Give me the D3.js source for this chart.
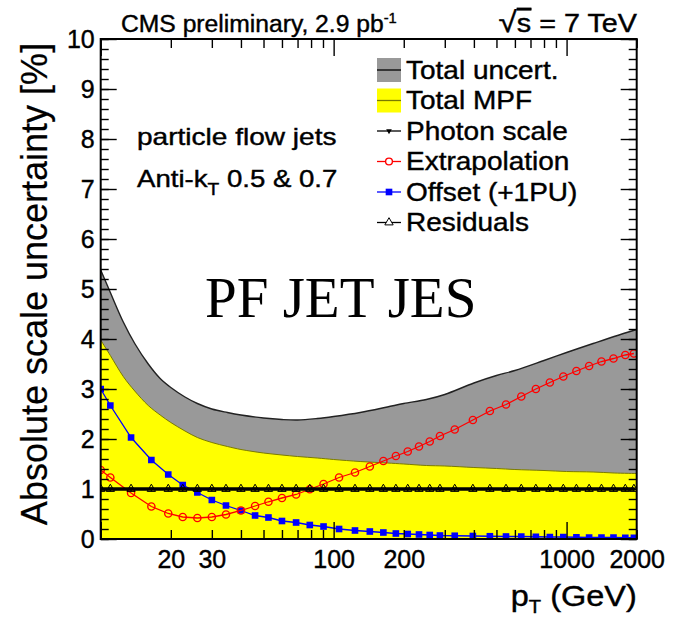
<!DOCTYPE html>
<html>
<head>
<meta charset="utf-8">
<script src="https://cdn.jsdelivr.net/npm/d3@7"></script>
<style>
	body { margin: 0; background: #fff; }
	#chart { width: 673px; height: 617px; }
	text { font-family: "Liberation Sans", Arial, Helvetica, sans-serif; fill: #000; stroke: #000; stroke-width: 0.4px; }
	text.serif { stroke: none; }
</style>
</head>
<body>
<div id="chart"></div>
<script>
//pT bin centres (GeV), shared by the marker series
var ptBins = [10, 11, 13.5, 16.5, 19.5, 22.5, 26, 30, 34.5, 40, 46, 52.5, 60, 69, 79, 90.5, 105.5, 123.5, 143, 163.5,
	185, 208, 232.5, 258.5, 286, 331, 396, 468.5, 549.5, 639, 738, 847.5, 968.5, 1102, 1249.5, 1412, 1590, 1787, 1945];

//uncertainty components [%]
var offsetPU = [3.0, 2.67, 2.03, 1.58, 1.29, 1.08, 0.93, 0.78, 0.67, 0.57, 0.47, 0.43, 0.36, 0.33, 0.28, 0.25, 0.20, 0.17, 0.15, 0.13,
	0.11, 0.10, 0.09, 0.08, 0.07, 0.065, 0.06, 0.055, 0.05, 0.05, 0.045, 0.04, 0.04, 0.035, 0.03, 0.03, 0.03, 0.025, 0.025];
var extrapolation = [1.38, 1.23, 0.92, 0.65, 0.51, 0.44, 0.42, 0.44, 0.49, 0.57, 0.66, 0.745, 0.82, 0.89, 0.995, 1.1, 1.23, 1.33, 1.45, 1.56,
	1.66, 1.75, 1.85, 1.95, 2.06, 2.19, 2.38, 2.56, 2.69, 2.85, 3.0, 3.13, 3.25, 3.36, 3.46, 3.55, 3.61, 3.68, 3.71];
var photonScale = [1, 1, 1, 1, 1, 1, 1, 1, 1, 1, 1, 1, 1, 1, 1, 1, 1, 1, 1, 1,
	1, 1, 1, 1, 1, 1, 1, 1, 1, 1, 1, 1, 1, 1, 1, 1, 1, 1, 1];
var residuals = [1, 1, 1, 1, 1, 1, 1, 1, 1, 1, 1, 1, 1, 1, 1, 1, 1, 1, 1, 1,
	1, 1, 1, 1, 1, 1, 1, 1, 1, 1, 1, 1, 1, 1, 1, 1, 1, 1, 1];

//band outlines
var bandPt = [10, 11, 12.5, 14, 16, 18, 20, 23, 26, 30, 35, 40, 50, 60, 70, 85, 100, 130, 170, 200,
	250, 300, 400, 500, 600, 800, 1000, 1300, 1600, 2000];
var totalUncert = [5.38, 4.93, 4.34, 3.91, 3.50, 3.21, 3.03, 2.84, 2.71, 2.60, 2.53, 2.48, 2.42, 2.39, 2.38, 2.41, 2.45, 2.53, 2.64, 2.71,
	2.79, 2.89, 3.12, 3.27, 3.37, 3.57, 3.73, 3.91, 4.05, 4.19];
var totalMPF = [3.98, 3.67, 3.25, 2.96, 2.67, 2.48, 2.33, 2.16, 2.03, 1.93, 1.85, 1.79, 1.72, 1.68, 1.65, 1.62, 1.59, 1.55, 1.52, 1.50,
	1.47, 1.46, 1.43, 1.41, 1.39, 1.37, 1.35, 1.34, 1.32, 1.31];

//axis ticks and labels
var xLabels = [20, 30, 100, 200, 1000, 2000];
var xMajor = [10, 100, 1000];
var xMinor = [20, 30, 40, 50, 60, 70, 80, 90, 200, 300, 400, 500, 600, 700, 800, 900, 2000];
var yMajor = [0, 1, 2, 3, 4, 5, 6, 7, 8, 9, 10];

var legendLabels = ["Total uncert.", "Total MPF", "Photon scale", "Extrapolation", "Offset (+1PU)", "Residuals"];

var jesChart = function(opts) {
	this.element = opts.element;
	this.draw(this.element);
}

jesChart.prototype.draw = function(chartElement) {
	var that = this;

	//plot frame in page pixels
	this.box = { left: 100.7, right: 636.7, top: 39, bottom: 539 };

	chartElement.innerHTML = '';
	this.svg = d3.select(chartElement).append('svg')
		.attr('width', 673)
		.attr('height', 617);

	this.x = d3.scaleLog().domain([10, 2000]).range([this.box.left, this.box.right]);
	this.y = d3.scaleLinear().domain([0, 10]).range([this.box.bottom, this.box.top]);

	this.svg.append('clipPath').attr('id', 'plotclip')
		.append('rect')
		.attr('x', this.box.left).attr('y', this.box.top)
		.attr('width', this.box.right - this.box.left)
		.attr('height', this.box.bottom - this.box.top);

	this.plot = this.svg.append('g').attr('clip-path', 'url(#plotclip)');

	this.drawBands();
	this.drawSeries();
	this.drawAxes();
	this.drawLegend();
	this.drawTexts();
}

//text with a horizontal stretch, the source picture is a bit wider than its fonts
jesChart.prototype.addText = function(parent, x, y, size, sx, anchor) {
	return parent.append('text')
		.attr('transform', 'translate(' + x + ',' + y + ') scale(' + sx + ',1)')
		.attr('text-anchor', anchor || 'start')
		.style('font-size', size + 'px');
}

jesChart.prototype.drawBands = function() {
	var that = this;
	var band = bandPt.map(function(d, i) { return { pt: d, tot: totalUncert[i], mpf: totalMPF[i] }; });

	var area = function(key) {
		return d3.area().curve(d3.curveCatmullRom)
			.x(function(d) { return that.x(d.pt); })
			.y0(that.y(0))
			.y1(function(d) { return that.y(d[key]); });
	};
	var edge = function(key) {
		return d3.line().curve(d3.curveCatmullRom)
			.x(function(d) { return that.x(d.pt); })
			.y(function(d) { return that.y(d[key]); });
	};

	this.plot.append('path').datum(band).attr('d', area('tot')).attr('fill', '#999999');
	this.plot.append('path').datum(band).attr('d', edge('tot'))
		.attr('fill', 'none').attr('stroke', '#222').attr('stroke-width', 1.4);
	this.plot.append('path').datum(band).attr('d', area('mpf')).attr('fill', '#ffff00');
	this.plot.append('path').datum(band).attr('d', edge('mpf'))
		.attr('fill', 'none').attr('stroke', '#7a7a00').attr('stroke-width', 1);
}

jesChart.prototype.drawSeries = function() {
	var that = this;
	var pts = function(vals) { return ptBins.map(function(d, i) { return { pt: d, v: vals[i] }; }); };
	var line = d3.line()
		.x(function(d) { return that.x(d.pt); })
		.y(function(d) { return that.y(d.v); });
	var pos = function(d) { return 'translate(' + that.x(d.pt) + ',' + that.y(d.v) + ')'; };

	//offset (+1PU): blue filled squares
	var off = pts(offsetPU);
	this.plot.append('path').datum(off).attr('d', line)
		.attr('fill', 'none').attr('stroke', '#0000ff').attr('stroke-width', 1.3);
	this.plot.selectAll('.off').data(off).enter().append('path')
		.attr('class', 'off')
		.attr('transform', pos)
		.attr('d', d3.symbol().type(d3.symbolSquare).size(44))
		.attr('fill', '#0000ff');

	//extrapolation: red open circles
	var ext = pts(extrapolation);
	this.plot.append('path').datum(ext).attr('d', line)
		.attr('fill', 'none').attr('stroke', '#ff0000').attr('stroke-width', 1.3);
	this.plot.selectAll('.ext').data(ext).enter().append('circle')
		.attr('class', 'ext')
		.attr('cx', function(d) { return that.x(d.pt); })
		.attr('cy', function(d) { return that.y(d.v); })
		.attr('r', 3.6)
		.attr('fill', 'none').attr('stroke', '#ff0000').attr('stroke-width', 1.4);

	//photon scale: thick black line, tiny markers
	var pho = pts(photonScale);
	this.plot.append('path').datum(pho).attr('d', line)
		.attr('fill', 'none').attr('stroke', '#000').attr('stroke-width', 3.4);
	this.plot.selectAll('.pho').data(pho).enter().append('path')
		.attr('class', 'pho')
		.attr('transform', function(d) { return pos(d) + ' rotate(180)'; })
		.attr('d', d3.symbol().type(d3.symbolTriangle).size(10))
		.attr('fill', '#000');

	//residuals: black open triangles
	var res = pts(residuals);
	this.plot.append('path').datum(res).attr('d', line)
		.attr('fill', 'none').attr('stroke', '#000').attr('stroke-width', 1);
	this.plot.selectAll('.res').data(res).enter().append('path')
		.attr('class', 'res')
		.attr('transform', pos)
		.attr('d', d3.symbol().type(d3.symbolTriangle).size(30))
		.attr('fill', 'none').attr('stroke', '#000').attr('stroke-width', 1);
}

jesChart.prototype.drawAxes = function() {
	var that = this;
	var b = this.box;
	var yMinor = d3.range(0, 10.001, 0.2);

	var put = function(axis, tx, ty) {
		var g = that.svg.append('g')
			.attr('transform', 'translate(' + tx + ',' + ty + ')')
			.call(axis);
		g.select('.domain').remove();
		g.selectAll('.tick line').attr('stroke', '#000').attr('stroke-width', 1.4);
		return g;
	};

	//ticks on all four sides, pointing inward
	put(d3.axisBottom(this.x).tickValues(xMajor).tickSize(-17).tickSizeOuter(0).tickFormat(''), 0, b.bottom);
	put(d3.axisBottom(this.x).tickValues(xMinor).tickSize(-9).tickSizeOuter(0).tickFormat(''), 0, b.bottom);
	put(d3.axisTop(this.x).tickValues(xMajor).tickSize(-17).tickSizeOuter(0).tickFormat(''), 0, b.top);
	put(d3.axisTop(this.x).tickValues(xMinor).tickSize(-9).tickSizeOuter(0).tickFormat(''), 0, b.top);
	put(d3.axisLeft(this.y).tickValues(yMajor).tickSize(-16).tickSizeOuter(0).tickFormat(''), b.left, 0);
	put(d3.axisLeft(this.y).tickValues(yMinor).tickSize(-8).tickSizeOuter(0).tickFormat(''), b.left, 0);
	put(d3.axisRight(this.y).tickValues(yMajor).tickSize(-16).tickSizeOuter(0).tickFormat(''), b.right, 0);
	put(d3.axisRight(this.y).tickValues(yMinor).tickSize(-8).tickSizeOuter(0).tickFormat(''), b.right, 0);

	//tick labels
	var xl = put(d3.axisBottom(this.x).tickValues(xLabels).tickSize(0).tickPadding(11).tickFormat(d3.format('d')), 0, b.bottom);
	xl.selectAll('text').style('font-size', '25px').attr('font-family', null).attr('fill', null);
	var yl = put(d3.axisLeft(this.y).tickValues(yMajor).tickSize(0).tickPadding(6).tickFormat(d3.format('d')), b.left, 0);
	yl.selectAll('text').style('font-size', '25px').attr('font-family', null).attr('fill', null);

	//frame
	this.svg.append('rect')
		.attr('x', b.left).attr('y', b.top)
		.attr('width', b.right - b.left).attr('height', b.bottom - b.top)
		.attr('fill', 'none').attr('stroke', '#000').attr('stroke-width', 2);

	//axis titles
	this.svg.append('text')
		.attr('transform', 'translate(47,' + ((b.top + b.bottom) / 2 - 5) + ') rotate(-90)')
		.attr('text-anchor', 'middle')
		.style('font-size', '36px')
		.style('stroke-width', '0.2px')
		.text('Absolute scale uncertainty [%]');

	var xt = this.addText(this.svg, b.right, 606, 29, 1.12, 'end');
	xt.append('tspan').text('p');
	xt.append('tspan').attr('dy', 7).style('font-size', '18px').text('T');
	xt.append('tspan').attr('dy', -7).text(' (GeV)');
}

jesChart.prototype.drawLegend = function() {
	var that = this;
	var lx = 377, lw = 24, y0 = 70, step = 30.5;
	var leg = this.svg.append('g');

	legendLabels.forEach(function(lab, i) {
		var cy = y0 + i * step;
		if (i < 2) {
			leg.append('rect')
				.attr('x', lx).attr('y', cy - 12).attr('width', lw).attr('height', 24)
				.attr('fill', i == 0 ? '#999999' : '#ffff00');
		}
		var col = ['#000', '#7a7a00', '#000', '#ff0000', '#0000ff', '#000'][i];
		leg.append('line')
			.attr('x1', lx).attr('x2', lx + lw).attr('y1', cy).attr('y2', cy)
			.attr('stroke', col).attr('stroke-width', 1.3);

		var mx = lx + lw / 2;
		if (i == 2) {
			leg.append('path').attr('transform', 'translate(' + mx + ',' + cy + ') rotate(180)')
				.attr('d', d3.symbol().type(d3.symbolTriangle).size(14)).attr('fill', '#000');
		} else if (i == 3) {
			leg.append('circle').attr('cx', mx).attr('cy', cy).attr('r', 3.4)
				.attr('fill', '#fff').attr('stroke', '#ff0000').attr('stroke-width', 1.4);
		} else if (i == 4) {
			leg.append('path').attr('transform', 'translate(' + mx + ',' + cy + ')')
				.attr('d', d3.symbol().type(d3.symbolSquare).size(44)).attr('fill', '#0000ff');
		} else if (i == 5) {
			leg.append('path').attr('transform', 'translate(' + mx + ',' + cy + ')')
				.attr('d', d3.symbol().type(d3.symbolTriangle).size(30))
				.attr('fill', '#fff').attr('stroke', '#000').attr('stroke-width', 1);
		}

		that.addText(leg, 406, cy + 8.5, 25, 1.12).text(lab);
	});
}

jesChart.prototype.drawTexts = function() {
	var hdr = this.addText(this.svg, 121, 32, 23.5, 1.05);
	hdr.append('tspan').text('CMS preliminary, 2.9 pb');
	hdr.append('tspan').attr('dy', -9).style('font-size', '14px').text('-1');

	var rs = this.addText(this.svg, 637, 32, 25, 1.15, 'end');
	rs.append('tspan').style('font-size', '29px').text('\u221A');
	rs.append('tspan').style('text-decoration', 'overline').text('s');
	rs.append('tspan').text(' = 7 TeV');

	this.addText(this.svg, 137, 145, 23, 1.22).text('particle flow jets');
	var ak = this.addText(this.svg, 137, 187, 23, 1.2);
	ak.append('tspan').text('Anti-k');
	ak.append('tspan').attr('dy', 8).style('font-size', '16px').text('T');
	ak.append('tspan').attr('dy', -8).text(' 0.5 & 0.7');

	this.svg.append('text')
		.attr('class', 'serif')
		.attr('x', 205).attr('y', 317)
		.style('font-family', '"Liberation Serif", "Times New Roman", serif')
		.style('font-size', '57px')
		.text('PF JET JES');
}

var chart = new jesChart({ element: document.getElementById('chart') });
</script>
</body>
</html>
